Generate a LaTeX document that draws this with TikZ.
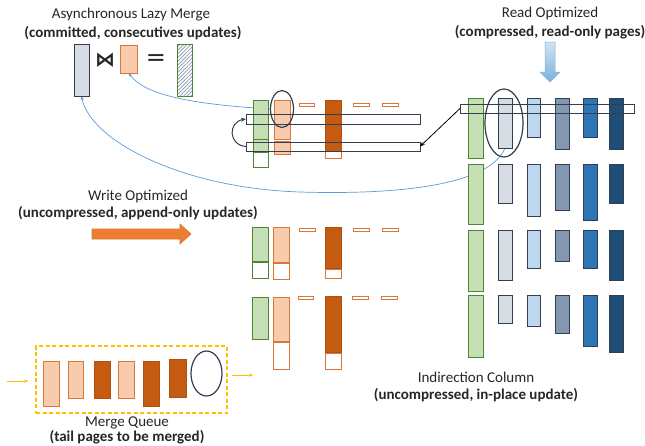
\documentclass[tikz,border=0pt]{standalone}
\usepackage{amsmath}
\usepackage{amssymb}
\usepackage{fontspec}
\setmainfont{Carlito}
\newfontfamily\symfont{DejaVu Sans}
\usetikzlibrary{fit,shapes.geometric,patterns.meta,shadows,arrows.meta}
\pgfdeclarelayer{background}
\pgfdeclarelayer{foreground}
\pgfsetlayers{background,main,foreground}

\definecolor{grnfill}{HTML}{C5E0B4}
\definecolor{grnline}{HTML}{548235}
\definecolor{lorfill}{HTML}{F8CBAD}
\definecolor{orline}{HTML}{D9773A}
\definecolor{dorfill}{HTML}{C55A11}
\definecolor{navy}{HTML}{333F50}
\definecolor{gryfill}{HTML}{D6DCE4}
\definecolor{lbfill}{HTML}{BDD7EE}
\definecolor{gbfill}{HTML}{8497B0}
\definecolor{mbfill}{HTML}{2E75B6}
\definecolor{dbfill}{HTML}{1F4E79}
\definecolor{curveblue}{HTML}{5B9BD5}
\definecolor{wrarrow}{HTML}{ED7D31}
\definecolor{mqyellow}{HTML}{FFC000}
\definecolor{txtc}{HTML}{262626}

\tikzset{
  pg/.style={inner sep=0pt, outer sep=0pt, line width=0.8pt, draw=navy},
  shd/.style={drop shadow={shadow xshift=0.8pt, shadow yshift=-0.8pt, opacity=0.3, fill=black}},
  grn/.style={pg, shd, fill=grnfill, draw=grnline},
  grnw/.style={pg, fill=white, draw=grnline},
  lorg/.style={pg, shd, fill=lorfill, draw=orline},
  dorg/.style={pg, shd, fill=dorfill, draw=dorfill!90!black},
  orgw/.style={pg, fill=white, draw=orline},
  gryp/.style={pg, shd, fill=gryfill},
  lbp/.style={pg, shd, fill=lbfill},
  gbp/.style={pg, shd, fill=gbfill},
  mbp/.style={pg, shd, fill=mbfill},
  dbp/.style={pg, shd, fill=dbfill},
  hatchp/.style={pg, draw=grnline, pattern={Lines[angle=45,distance=2.6pt,line width=0.7pt]}, pattern color=gbfill},
  rowbar/.style={pg, line width=1pt},
  ring/.style={ellipse, draw=navy, line width=1.2pt, inner sep=0pt},
  mqbox/.style={inner sep=0pt, draw=mqyellow, line width=1.5pt, dash pattern=on 4pt off 2.5pt},
  txt/.style={font=\fontsize{15}{17}\selectfont, text=txtc, inner sep=0pt},
  txtb/.style={font=\fontsize{15}{17}\selectfont\bfseries, text=txtc, inner sep=0pt},
  bluecurve/.style={draw=curveblue, line width=0.7pt, -{Stealth[length=4pt,width=3pt]}},
  qarrow/.style={draw=mqyellow, line width=1pt, -{Stealth[length=4pt,width=3.5pt]}}
}
\newcommand{\pg}[6]{\node[#2, fit={(#3,#4) (#5,#6)}] (#1) {};}

\begin{document}
\begin{tikzpicture}[x=1pt,y=-1pt]
\useasboundingbox (0,0) rectangle (645,445);

% asynchronous lazy merge
\node[txt] (lzt) at (131,15) {Asynchronous Lazy Merge};
\node[txtb] (lzb) at (133,33) {(committed, consecutives updates)};
\pg{lzg}{gryp}{74}{44}{89}{96}
\pg{lzo}{lorg}{120}{45}{137}{73}
\pg{lzh}{hatchp}{177}{44}{192}{96}
\node[inner sep=0pt, text=txtc, font=\symfont\bfseries\fontsize{20}{20}\selectfont] (join) at (105,60) {⋈};
\node[inner sep=0pt, text=txtc, font=\symfont\fontsize{24}{24}\selectfont] (eq) at (156,60) {=};

% read optimized
\node[txt] (rot) at (550,13) {Read Optimized};
\node[txtb] (rob) at (550,32) {(compressed, read-only pages)};
\draw[draw=curveblue!80, top color=lbfill!70, bottom color=curveblue!80, line width=0.5pt]
  (545,42) -- (555,42) -- (555,72) -- (560,72) -- (550,82) -- (540,72) -- (545,72) -- cycle;

% write optimized
\node[txt] (wot) at (138,196) {Write Optimized};
\node[txtb] (wob) at (138,213) {(uncompressed, append-only updates)};
\draw[fill=wrarrow, draw=orline, line width=0.6pt]
  (92,229) -- (180,229) -- (180,224) -- (191,234) -- (180,244) -- (180,239) -- (92,239) -- cycle;

% tail pages, first group
\pg{wa1}{grn}{253}{100}{268}{139}
\pg{wa1t}{grn}{253}{139}{268}{152}
\pg{wa1e}{grnw}{253}{152}{268}{167}
\pg{wa2}{lorg}{274}{100}{290}{139}
\pg{wa2t}{lorg}{274}{141}{290}{154}
\pg{wa3}{dorg}{325}{100}{341}{151}
\pg{wa3e}{orgw}{325}{151}{341}{158}
\pg{wa4}{orgw}{299}{103}{314}{106}
\pg{wa5}{orgw}{353}{103}{369}{106}
\pg{wa6}{orgw}{382}{103}{398}{106}
\pg{wbar1}{rowbar}{246}{114}{420}{124}
\pg{wbar2}{rowbar}{246}{142}{420}{151}
\node[ring, minimum width=23pt, minimum height=37pt] (wring) at (282,109) {};

% tail pages, second group
\pg{wb1}{grn}{252}{227}{268}{261}
\pg{wb1e}{grnw}{252}{262}{268}{278}
\pg{wb2}{lorg}{273}{227}{289}{262}
\pg{wb2e}{orgw}{273}{263}{289}{279}
\pg{wb3}{dorg}{325}{227}{341}{268}
\pg{wb3e}{orgw}{325}{269}{341}{278}
\pg{wb4}{orgw}{299}{228}{315}{231}
\pg{wb5}{orgw}{353}{228}{369}{231}
\pg{wb6}{orgw}{382}{228}{398}{231}

% tail pages, third group
\pg{wc1}{grn}{252}{297}{268}{339}
\pg{wc2}{lorg}{273}{297}{289}{341}
\pg{wc2e}{orgw}{273}{342}{289}{369}
\pg{wc3}{dorg}{325}{296}{341}{352}
\pg{wc3e}{orgw}{325}{353}{341}{369}
\pg{wc4}{orgw}{298}{296}{313}{299}
\pg{wc5}{orgw}{352}{296}{368}{299}
\pg{wc6}{orgw}{381}{296}{397}{299}

% base pages with indirection column
\foreach \r/\t/\g/\a/\b/\c/\d/\e in {1/98/158/148/137/149/137/149, 2/164/224/203/216/210/220/203,
    3/230/291/280/268/261/268/280, 4/295/357/323/326/333/346/352}{
  \pg{ind\r}{grn}{468}{\t}{483}{\g}
  \pg{rc\r a}{gryp}{498}{\t}{512}{\a}
  \pg{rc\r b}{lbp}{527}{\t}{540}{\b}
  \pg{rc\r c}{gbp}{555}{\t}{569}{\c}
  \pg{rc\r d}{mbp}{583}{\t}{597}{\d}
  \pg{rc\r e}{dbp}{609}{\t}{623}{\e}
}
\pg{rbar}{rowbar}{460}{104}{634}{113}
\node[ring, minimum width=38pt, minimum height=68pt] (rring) at (504,123) {};
\node[txt] (int) at (476,377) {Indirection Column};
\node[txtb] (inb) at (476,395) {(uncompressed, in-place update)};

% merge queue
\pg{mq}{mqbox}{36}{346}{227}{413}
\pg{mq1}{lorg}{43}{361}{59}{406}
\pg{mq2}{lorg}{68}{361}{83}{398}
\pg{mq3}{dorg}{94}{361}{110}{398}
\pg{mq4}{lorg}{118}{361}{134}{398}
\pg{mq5}{dorg}{143}{361}{159}{406}
\pg{mq6}{dorg}{169}{359}{186}{397}
\node[ring, minimum width=31pt, minimum height=45pt] (mqring) at (206.5,373.5) {};
\node[txt] (mqt) at (127,422.5) {Merge Queue};
\node[txtb] (mqb) at (127,437.5) {(tail pages to be merged)};
\coordinate (qin) at (7,381);
\coordinate (qout) at (253,375);
\draw[qarrow, shorten >=7pt] (qin) -- (qin -| mq.west);
\draw[qarrow, shorten <=4pt] (qout -| mq.east) -- (qout);

% connectors
\begin{pgfonlayer}{background}
\draw[bluecurve] (wring.west) .. controls (190,104) and (145,95) .. (lzo.south);
\draw[bluecurve] (rc1a.south) .. controls (490,185) and (400,195) .. (300,192)
  .. controls (180,188) and (90,140) .. (lzg.south);
\end{pgfonlayer}
\draw[-{Stealth[length=5pt,width=4pt]}, line width=0.8pt] (rbar.west) -- (wbar2.east);
\draw[-{Stealth[length=5pt,width=4pt]}, draw=navy, line width=1pt] (wbar2.west)
  .. controls (228,145) and (228,122) .. (wbar1.west);
\end{tikzpicture}
\end{document}
